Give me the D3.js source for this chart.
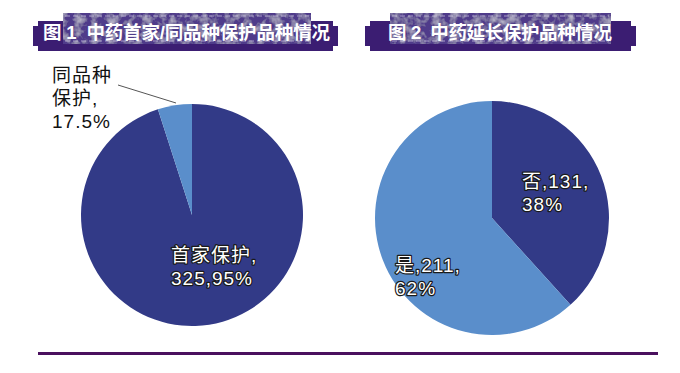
<!DOCTYPE html>
<html lang="zh">
<head>
<meta charset="utf-8">
<script src="https://d3js.org/d3.v7.min.js"></script>
<style>
  html, body { margin:0; padding:0; background:#fff; overflow:hidden }
  svg { display:block }
  text { font-family: "Liberation Sans", "Noto Sans CJK SC", sans-serif; }
</style>
</head>
<body>
<svg width="680" height="373"></svg>
<script>
// 图1 中药首家/同品种保护
const fig1Names = ["首家保护", "同品种保护"];
const fig1Values = [325, 17];
const fig1Labels = [["首家保护,", "325,95%"], ["同品种", "保护,", "17.5%"]];

// 图2 中药延长保护
const fig2Names = ["否", "是"];
const fig2Values = [131, 211];
const fig2Labels = [["否,131,", "38%"], ["是,211,", "62%"]];

const titles = ["图 1  中药首家/同品种保护品种情况", "图 2  中药延长保护品种情况"];

const dark = "#323a87", light = "#5a8ecb";

const svg = d3.select("svg");

// mottled texture for the banners
const defs = svg.append("defs");
const f = defs.append("filter").attr("id", "grain").attr("x", 0).attr("y", 0).attr("width", 1).attr("height", 1);
f.append("feTurbulence").attr("type", "fractalNoise").attr("baseFrequency", 0.12).attr("numOctaves", 3).attr("seed", 4).attr("result", "n");
f.append("feColorMatrix").attr("in", "n").attr("type", "matrix")
  .attr("values", "0 0 0 0 1  0 0 0 0 1  0 0 0 0 1  0 0 0 0.9 -0.38").attr("result", "w");
f.append("feComposite").attr("in", "w").attr("in2", "SourceGraphic").attr("operator", "in").attr("result", "wc");
f.append("feMerge").call(m => { m.append("feMergeNode").attr("in", "SourceGraphic"); m.append("feMergeNode").attr("in", "wc"); });

function banner(x0, x1, inner0, inner1, text, tx, tw) {
  const g = svg.append("g");
  const y0 = 21, y1 = 51, c = 5;
  g.append("path")
    .attr("d", `M${x0 + c},${y0} H${x1 - c} V${y0 + c} H${x1} V${y1 - c} H${x1 - c} V${y1} H${x0 + c} V${y1 - c} H${x0} V${y0 + c} H${x0 + c} Z`)
    .attr("fill", "#3b1d72");
  g.append("rect")
    .attr("x", inner0).attr("y", 13).attr("width", inner1 - inner0).attr("height", 31)
    .attr("fill", "#4f3a8a").attr("filter", "url(#grain)");
  [16, 41].forEach(y => g.append("line")
    .attr("x1", inner0 + 2).attr("x2", inner1 - 2).attr("y1", y).attr("y2", y)
    .attr("stroke", "#e6dff5").attr("stroke-opacity", 0.6).attr("stroke-width", 1)
    .attr("stroke-dasharray", "5,3"));
  g.append("text")
    .attr("x", tx).attr("y", 39)
    .attr("fill", "#fff").attr("font-size", 18.5).attr("font-weight", 700)
    .attr("font-family", "'Noto Sans CJK SC', sans-serif")
    .attr("textLength", tw).attr("lengthAdjust", "spacing")
    .attr("xml:space", "preserve")
    .text(text);
}

banner(33, 338, 63, 311, titles[0], 43, 287);
banner(365, 636, 390, 611, titles[1], 388, 224);

function drawPie(cx, cy, r, values, colors) {
  const pie = d3.pie().sort(null)(values);
  const arc = d3.arc().innerRadius(0).outerRadius(r);
  const g = svg.append("g").attr("transform", `translate(${cx},${cy})`);
  g.selectAll("path").data(pie).join("path")
    .attr("d", arc)
    .attr("fill", (d, i) => colors[i]);
  return g;
}

function label(x, y, lines, haloed) {
  const t = svg.append("text")
    .attr("x", x).attr("y", y)
    .attr("font-size", 19)
    .attr("letter-spacing", 1)
    .attr("fill", haloed ? "#fff" : "#111");
  if (haloed) {
    t.attr("stroke", "#1a1a1a").attr("stroke-width", 2.4)
      .attr("paint-order", "stroke").attr("stroke-linejoin", "round");
  }
  lines.forEach((s, i) => t.append("tspan").attr("x", x).attr("dy", i ? 23 : 0).text(s));
}

// pie 1
drawPie(192, 215, 111, fig1Values, [dark, light]);
svg.append("line")
  .attr("x1", 118).attr("y1", 85).attr("x2", 176).attr("y2", 103)
  .attr("stroke", "#555").attr("stroke-width", 1);
label(52, 82, fig1Labels[1], false);
label(171, 262, fig1Labels[0], true);

// pie 2
drawPie(492, 218, 117, fig2Values, [dark, light]);
label(522, 188, fig2Labels[0], true);
label(395, 272, fig2Labels[1], true);

// bottom rule
svg.append("line")
  .attr("x1", 38).attr("x2", 658).attr("y1", 353.5).attr("y2", 353.5)
  .attr("stroke", "#4a105e").attr("stroke-width", 3);
</script>
</body>
</html>
